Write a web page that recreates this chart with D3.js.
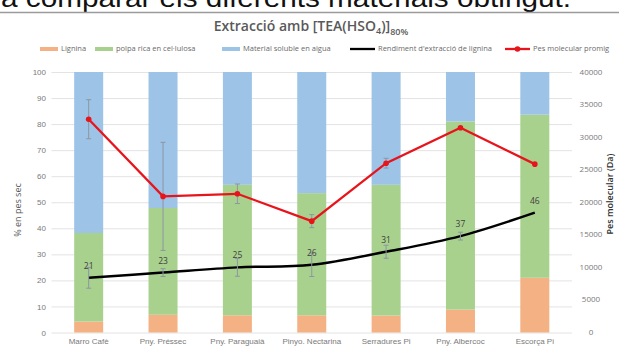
<!DOCTYPE html>
<html>
<head>
<meta charset="utf-8">
<script src="https://cdn.jsdelivr.net/npm/d3@7/dist/d3.min.js"></script>
<style>
  html, body { margin: 0; padding: 0; background: #fff; }
  svg { display: block; font-family: "Open Sans", "Liberation Sans", sans-serif; }
</style>
</head>
<body>
<svg id="chart" width="619" height="350"></svg>
<script>
// Materials
const categories = ["Marro Cafè", "Pny. Préssec", "Pny. Paraguaià", "Pinyo. Nectarina", "Serradures Pi", "Pny. Albercoc", "Escorça Pi"];

// Composition (% en pes sec), stacked bottom to top
const lignina  = [4.2, 6.8, 6.6, 6.6, 6.5, 8.8, 21.0];
const polpa    = [34.0, 41.0, 50.1, 46.9, 50.2, 72.2, 62.6];
const soluble  = [61.8, 52.2, 43.3, 46.5, 43.3, 19.0, 16.4];

// Rendiment d'extracció de lignina (%) and its error
const rendiment    = [21, 23, 25, 26, 31, 37, 46];
const rendimentErr = [4, 1.5, 3.4, 4.5, 2.5, 1.5, 0];

// Pes molecular promig (Da) and its error
const pesMolecular    = [32750, 20900, 21300, 17100, 26000, 31450, 25850];
const pesMolecularErr = [3000, 8300, 1500, 1000, 750, 0, 0];

const leftTicks  = [0, 10, 20, 30, 40, 50, 60, 70, 80, 90, 100];
const rightTicks = [0, 5000, 10000, 15000, 20000, 25000, 30000, 35000, 40000];

const colors = { lignina: "#f4b183", polpa: "#a9d18e", soluble: "#9dc3e6", rendiment: "#000000", pes: "#e8141c", err: "#8c96a3" };

const svg = d3.select("#chart");

// Heading text of the page above the chart
svg.append("text")
  .attr("x", 1).attr("y", 7)
  .attr("font-family", "Liberation Sans, Arial, sans-serif")
  .attr("font-size", 25).attr("fill", "#111")
  .attr("textLength", 570).attr("lengthAdjust", "spacingAndGlyphs")
  .text("a comparar els diferents materials obtingut.");
svg.append("line").attr("x1", 0).attr("x2", 619).attr("y1", 12.5).attr("y2", 12.5)
  .attr("stroke", "#9a9a9a").attr("stroke-width", 1.5);

const x = d3.scaleBand().domain(categories).range([51.5, 572]).paddingInner(0.61).paddingOuter(0.305);
const yL = d3.scaleLinear().domain([0, 100]).range([332.5, 72]);
const yR = d3.scaleLinear().domain([0, 40000]).range([332.5, 72]);

// Gridlines
svg.append("g").selectAll("line").data(leftTicks).join("line")
  .attr("x1", 51.5).attr("x2", 572)
  .attr("y1", d => yL(d) + 0.5).attr("y2", d => yL(d) + 0.5)
  .attr("stroke", "#e3e3e3").attr("stroke-width", 1);

// Left axis
const axL = d3.axisLeft(yL).tickValues(leftTicks).tickSize(0).tickPadding(0);
const gL = svg.append("g").attr("transform", "translate(46,0)").call(axL);
gL.select(".domain").remove();
gL.selectAll("text").attr("font-size", 8).attr("fill", "#7a7a7a");

// Right axis
const gR = svg.append("g").attr("transform", "translate(591,0)");
gR.selectAll("text").data(rightTicks).join("text")
  .attr("y", d => yR(d)).attr("dy", "0.32em")
  .attr("text-anchor", "middle").attr("font-size", 8).attr("fill", "#7a7a7a")
  .text(d => d);

// Category axis
const axB = d3.axisBottom(x).tickSize(0).tickPadding(0);
const gB = svg.append("g").attr("transform", "translate(0,338)").call(axB);
gB.select(".domain").remove();
gB.selectAll("text").attr("font-size", 8).attr("fill", "#7a7a7a");

// Stacked bars
const rows = categories.map((c, i) => ({ cat: c, lignina: lignina[i], polpa: polpa[i], soluble: soluble[i] }));
const stack = d3.stack().keys(["lignina", "polpa", "soluble"])(rows);
svg.append("g").selectAll("g").data(stack).join("g")
  .attr("fill", s => colors[s.key])
  .selectAll("rect").data(s => s).join("rect")
  .attr("x", d => x(d.data.cat)).attr("width", x.bandwidth())
  .attr("y", d => yL(d[1])).attr("height", d => yL(d[0]) - yL(d[1]));

const cx = c => x(c) + x.bandwidth() / 2;

function errorBars(vals, errs, scale) {
  const g = svg.append("g").attr("stroke", colors.err).attr("stroke-width", 1).attr("fill", "none");
  categories.forEach((c, i) => {
    if (!errs[i]) return;
    const X = cx(c), y1 = scale(vals[i] + errs[i]), y2 = scale(vals[i] - errs[i]);
    g.append("line").attr("x1", X).attr("x2", X).attr("y1", y1).attr("y2", y2);
    g.append("line").attr("x1", X - 2.5).attr("x2", X + 2.5).attr("y1", y1).attr("y2", y1);
    g.append("line").attr("x1", X - 2.5).attr("x2", X + 2.5).attr("y1", y2).attr("y2", y2);
  });
}

// Rendiment line (left axis, smoothed)
const lineR = d3.line().x((d, i) => cx(categories[i])).y(d => yL(d)).curve(d3.curveCatmullRom.alpha(0.5));
svg.append("path").datum(rendiment).attr("d", lineR)
  .attr("fill", "none").attr("stroke", colors.rendiment).attr("stroke-width", 2.5);
errorBars(rendiment, rendimentErr, yL);
svg.append("g").selectAll("text").data(rendiment).join("text")
  .attr("x", (d, i) => cx(categories[i])).attr("y", d => yL(d) - 9)
  .attr("text-anchor", "middle").attr("font-size", 8.5).attr("fill", "#404040")
  .text(d => d);

// Pes molecular line (right axis)
const lineP = d3.line().x((d, i) => cx(categories[i])).y(d => yR(d));
svg.append("path").datum(pesMolecular).attr("d", lineP)
  .attr("fill", "none").attr("stroke", colors.pes).attr("stroke-width", 2.3);
errorBars(pesMolecular, pesMolecularErr, yR);
svg.append("g").selectAll("circle").data(pesMolecular).join("circle")
  .attr("cx", (d, i) => cx(categories[i])).attr("cy", d => yR(d)).attr("r", 2.8)
  .attr("fill", colors.pes);

// Title
const title = svg.append("text").attr("x", 311).attr("y", 31).attr("text-anchor", "middle")
  .attr("font-size", 14).attr("font-weight", 600).attr("fill", "#595959");
title.append("tspan").text("Extracció amb [TEA(HSO");
title.append("tspan").attr("font-size", 9).attr("dy", 3).text("4");
title.append("tspan").attr("dy", -3).text(")]");
title.append("tspan").attr("font-size", 9).attr("dy", 4).text("80%");

// Axis titles
svg.append("text").attr("transform", "translate(21,210) rotate(-90)")
  .attr("text-anchor", "middle").attr("font-size", 9).attr("fill", "#595959").text("% en pes sec");
svg.append("text").attr("transform", "translate(613,194) rotate(-90)")
  .attr("text-anchor", "middle").attr("font-size", 9).attr("font-weight", 600).attr("fill", "#333").text("Pes molecular (Da)");

// Legend
const legend = [
  { label: "Lignina", type: "bar", color: colors.lignina, x: 40 },
  { label: "polpa rica en cel·lulosa", type: "bar", color: colors.polpa, x: 95 },
  { label: "Material soluble en aigua", type: "bar", color: colors.soluble, x: 222 },
  { label: "Rendiment d'extracció de lignina", type: "line", color: colors.rendiment, x: 350 },
  { label: "Pes molecular promig", type: "marker", color: colors.pes, x: 505 }
];
const lg = svg.append("g").attr("transform", "translate(0,49)");
legend.forEach(l => {
  const g = lg.append("g").attr("transform", `translate(${l.x},0)`);
  if (l.type === "bar") {
    g.append("rect").attr("x", 0).attr("y", -2).attr("width", 18).attr("height", 4).attr("fill", l.color);
  } else {
    g.append("line").attr("x1", 0).attr("x2", 25).attr("y1", 0).attr("y2", 0)
      .attr("stroke", l.color).attr("stroke-width", 2.3);
    if (l.type === "marker") g.append("circle").attr("cx", 12.5).attr("cy", 0).attr("r", 2.8).attr("fill", l.color);
  }
  g.append("text").attr("x", l.type === "bar" ? 21 : 28).attr("y", 0).attr("dy", "0.32em")
    .attr("font-size", 7.5).attr("fill", "#6a6a6a").text(l.label);
});
</script>
</body>
</html>
